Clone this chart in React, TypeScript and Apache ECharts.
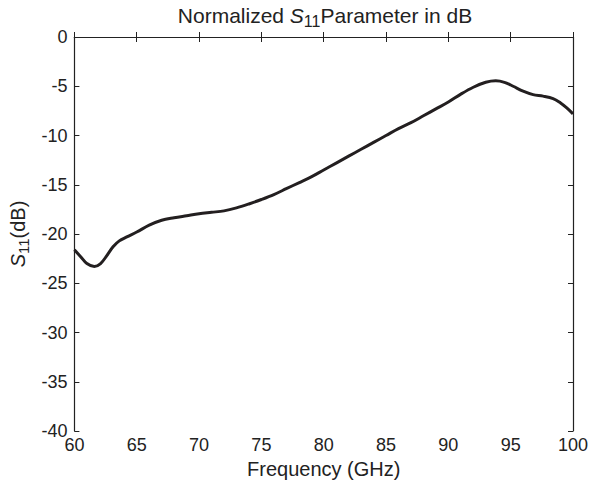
import React, { useEffect, useRef } from "react";
import * as echarts from "echarts";

const freqGHz = [60, 60.5, 61, 61.6, 62.1, 62.6, 63.1, 63.6, 64.2, 65, 66, 67, 68, 69, 70, 71, 72, 73, 74, 75, 76, 77, 78, 79, 80, 81, 82, 83, 84, 85, 86, 87, 88, 89, 90, 91, 92, 93, 93.8, 94.5, 95.2, 96, 96.8, 97.6, 98.4, 99, 99.5, 100];
const s11dB = [-21.6, -22.3, -23.0, -23.3, -23.0, -22.2, -21.3, -20.7, -20.3, -19.8, -19.1, -18.6, -18.35, -18.15, -17.95, -17.8, -17.65, -17.35, -16.95, -16.5, -16.0, -15.4, -14.8, -14.2, -13.5, -12.8, -12.1, -11.4, -10.7, -10.0, -9.3, -8.7, -8.0, -7.3, -6.6, -5.8, -5.1, -4.6, -4.45, -4.6, -5.0, -5.5, -5.85, -6.0, -6.25, -6.7, -7.2, -7.8];

const FONT = "Liberation Sans, Arial, Helvetica, sans-serif";
const FS = 18;
const FN = 20;

export default function App() {
  const ref = useRef<HTMLDivElement>(null);
  useEffect(() => {
    if (!ref.current) return;
    const chart = echarts.init(ref.current, null, { renderer: "svg" });
    const mkRich = (fs: number) => ({
      s: { fontStyle: "italic", fontWeight: "normal", fontSize: fs, fontFamily: FONT, color: "#222" },
      sub: { fontSize: Math.round(fs * 0.75), fontWeight: "normal", fontFamily: FONT, color: "#222", padding: [Math.round(fs * 0.5), 0, 0, 0] },
      n: { fontSize: fs, fontWeight: "normal", fontFamily: FONT, color: "#222" },
    });
    const tickStyle = { inside: true, length: 5, lineStyle: { color: "#222", width: 1 } };
    const lineStyle = { lineStyle: { color: "#222", width: 1.2 } };
    chart.setOption({
      animation: false,
      backgroundColor: "#fff",
      title: {
        text: "{n|Normalized }{s|S}{sub|11}{n|Parameter in dB}",
        left: 320,
        textAlign: "center",
        top: -3,
        textStyle: { rich: mkRich(21), fontSize: 21, fontWeight: "normal", fontFamily: FONT },
      },
      grid: { left: 73, right: 19, top: 37, bottom: 58, containLabel: false },
      xAxis: [
        {
          type: "value",
          min: 60,
          max: 100,
          interval: 5,
          position: "bottom",
          name: "Frequency (GHz)",
          nameLocation: "middle",
          nameGap: 26,
          nameTextStyle: { fontSize: FN, fontFamily: FONT, color: "#222" },
          axisLine: lineStyle,
          axisTick: tickStyle,
          axisLabel: { fontSize: FS, fontFamily: FONT, color: "#222", margin: 5 },
          splitLine: { show: false },
        },
        {
          type: "value",
          min: 60,
          max: 100,
          interval: 5,
          position: "top",
          axisLine: lineStyle,
          axisTick: tickStyle,
          axisLabel: { show: false },
          splitLine: { show: false },
        },
      ],
      yAxis: [
        {
          type: "value",
          min: -40,
          max: 0,
          interval: 5,
          position: "left",
          name: "{s|S}{sub|11}{n|(dB)}",
          nameLocation: "middle",
          nameGap: 40,
          nameRotate: 90,
          nameTextStyle: { rich: mkRich(FN), fontSize: FN, fontFamily: FONT },
          axisLine: lineStyle,
          axisTick: tickStyle,
          axisLabel: { fontSize: FS, fontFamily: FONT, color: "#222", margin: 7 },
          splitLine: { show: false },
        },
        {
          type: "value",
          min: -40,
          max: 0,
          interval: 5,
          position: "right",
          axisLine: lineStyle,
          axisTick: tickStyle,
          axisLabel: { show: false },
          splitLine: { show: false },
        },
      ],
      series: [
        {
          type: "line",
          data: freqGHz.map((f, i) => [f, s11dB[i]]),
          smooth: 0.35,
          showSymbol: false,
          symbol: "none",
          lineStyle: { color: "#231f20", width: 3 },
        },
      ],
    });
    return () => chart.dispose();
  }, []);
  return <div ref={ref} style={{ position: "fixed", left: 0, top: 0, width: 592, height: 489 }} />;
}
